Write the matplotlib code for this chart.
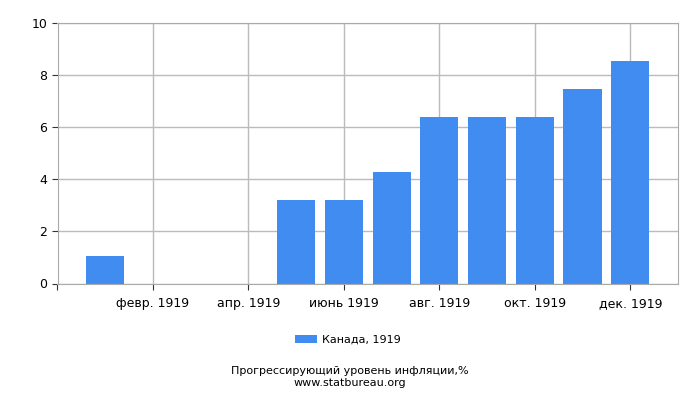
import numpy as np
import matplotlib.pyplot as plt

months = np.arange(12)
values = [1.05, 0, 0, 0, 3.2, 3.2, 4.27, 6.37, 6.37, 6.37, 7.45, 8.52]
tick_pos = [-1, 1, 3, 5, 7, 9, 11]
tick_labels = ['', 'февр. 1919', 'апр. 1919', 'июнь 1919', 'авг. 1919', 'окт. 1919', 'дек. 1919']
series_name = 'Канада, 1919'

plt.rcParams['font.family'] = ['DejaVu Sans']
fig = plt.figure(figsize=(7, 4), dpi=100)
ax = fig.add_axes([57.5 / 700, 1 - 283.5 / 400, 620.5 / 700, 261 / 400])

ax.bar(months, values, width=0.8, color='#418cf0', label=series_name, zorder=2)
ax.set_xlim(-1, 12)
ax.set_ylim(0, 10)
ax.set_xticks(tick_pos)
ax.set_xticklabels(tick_labels, fontsize=9)
ax.set_yticks([0, 2, 4, 6, 8, 10])
ax.tick_params(axis='y', labelsize=9, length=4, color='#333333')
ax.tick_params(axis='x', length=4, color='#333333', pad=6)
ax.grid(True, color='#bbbbbb', linewidth=1, zorder=0)
for s in ax.spines.values():
    s.set_color('#aaaaaa')

fig.legend(loc='center', bbox_to_anchor=(0.497, 1 - 340 / 400), frameon=False,
           fontsize=8, handlelength=2.0, handleheight=0.8, handletextpad=0.4)
fig.text(0.5, 1 - 371 / 400, 'Прогрессирующий уровень инфляции,%', ha='center', va='center', fontsize=8)
fig.text(0.5, 1 - 382.5 / 400, 'www.statbureau.org', ha='center', va='center', fontsize=8)

fig.savefig('out.png')
